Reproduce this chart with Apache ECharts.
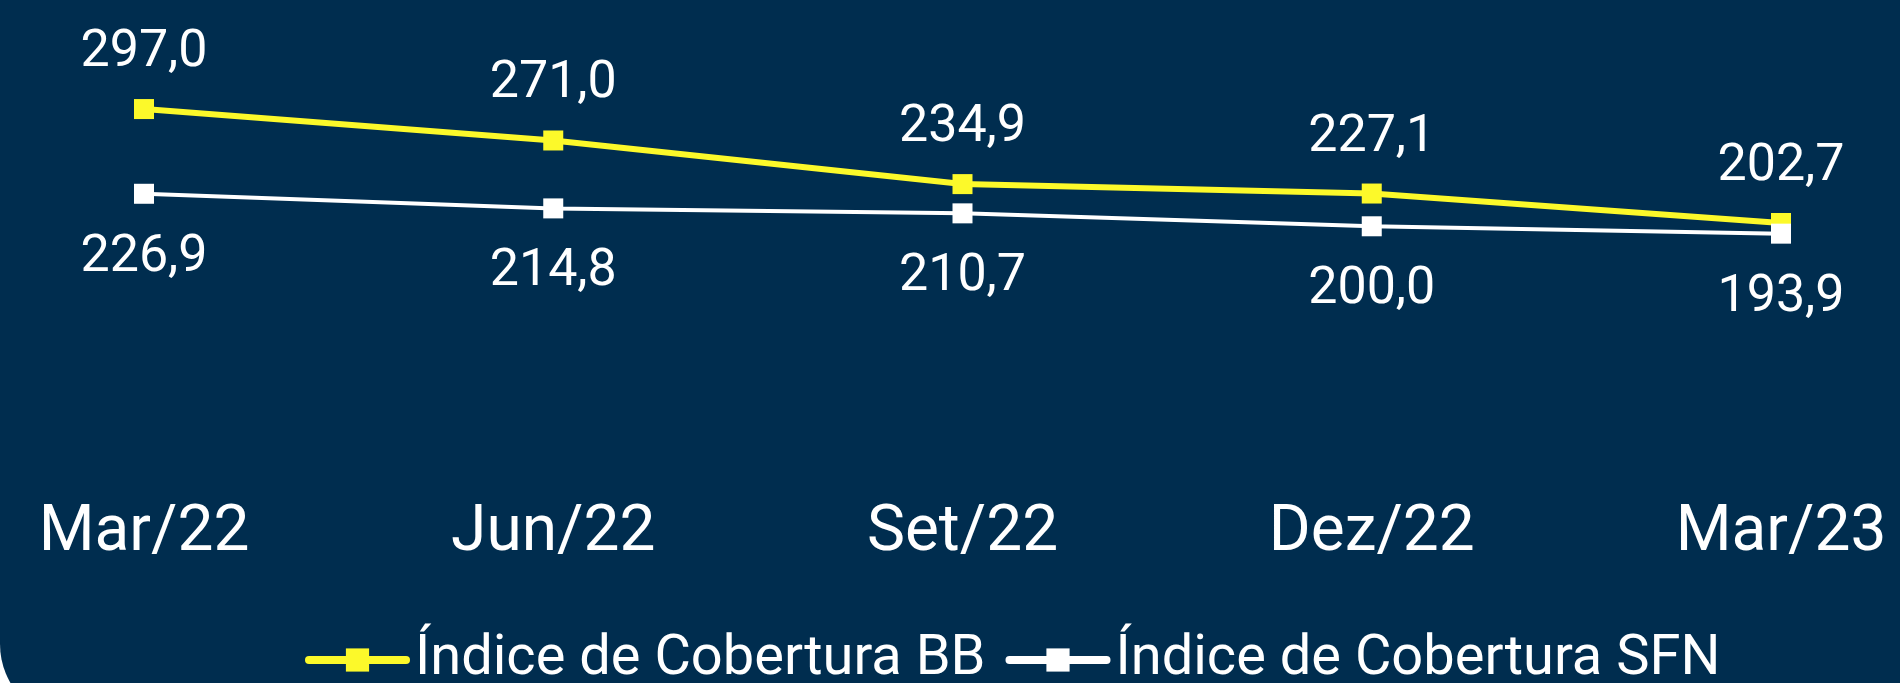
<!DOCTYPE html>
<html>
<head>
<meta charset="utf-8">
<script src="https://cdn.jsdelivr.net/npm/echarts@6/dist/echarts.min.js"></script>
<style>
html,body{margin:0;padding:0;background:#ffffff;}
#chart{width:1900px;height:683px;}
</style>
</head>
<body>
<div id="chart"></div>
<script>
const categories = ['Mar/22', 'Jun/22', 'Set/22', 'Dez/22', 'Mar/23'];
const seriesBBName = 'Índice de Cobertura BB';
const seriesSFNName = 'Índice de Cobertura SFN';
const valuesBB = [297.0, 271.0, 234.9, 227.1, 202.7];
const valuesSFN = [226.9, 214.8, 210.7, 200.0, 193.9];

const BG = '#002D4F';
const YELLOW = '#FCF92A';
const WHITE = '#FFFFFF';
const FONT = 'Roboto, "Noto Sans", sans-serif';

const fmt = v => v.toFixed(1).replace('.', ',');

const chart = echarts.init(document.getElementById('chart'), null, {renderer: 'canvas'});
chart.setOption({
  backgroundColor: '#ffffff',
  animation: false,
  graphic: [{
    type: 'rect',
    z: -10,
    silent: true,
    shape: {x: 0, y: -100, width: 2100, height: 822, r: [0, 0, 0, 78]},
    style: {fill: BG}
  }],
  grid: {left: 144, right: 119, top: 45, bottom: 215, containLabel: false},
  xAxis: {
    type: 'category',
    data: categories,
    boundaryGap: false,
    axisLine: {show: false},
    axisTick: {show: false},
    splitLine: {show: false},
    axisLabel: {color: WHITE, fontSize: 64, fontFamily: FONT, margin: 34}
  },
  yAxis: {
    type: 'value',
    min: 0,
    max: 350,
    show: false,
    splitLine: {show: false}
  },
  legend: {
    left: 300,
    top: 627,
    itemWidth: 97,
    itemHeight: 29,
    itemGap: 20,
    lineStyle: {width: 8, cap: 'round'},
    textStyle: {color: WHITE, fontSize: 56, fontFamily: FONT, padding: [0, 0, 0, 4]},
    data: [seriesBBName, seriesSFNName]
  },
  series: [
    {
      name: seriesBBName,
      type: 'line',
      data: valuesBB,
      symbol: 'rect',
      symbolSize: 20,
      lineStyle: {color: YELLOW, width: 6},
      itemStyle: {color: YELLOW},
      label: {
        show: true, position: 'top', distance: 20,
        color: WHITE, fontSize: 52, fontFamily: FONT,
        formatter: p => fmt(p.value)
      },
      z: 3
    },
    {
      name: seriesSFNName,
      type: 'line',
      data: valuesSFN,
      symbol: 'rect',
      symbolSize: 20,
      lineStyle: {color: WHITE, width: 4},
      itemStyle: {color: WHITE},
      label: {
        show: true, position: 'bottom', distance: 28,
        color: WHITE, fontSize: 52, fontFamily: FONT,
        formatter: p => fmt(p.value)
      },
      z: 4
    }
  ]
});
</script>
</body>
</html>
